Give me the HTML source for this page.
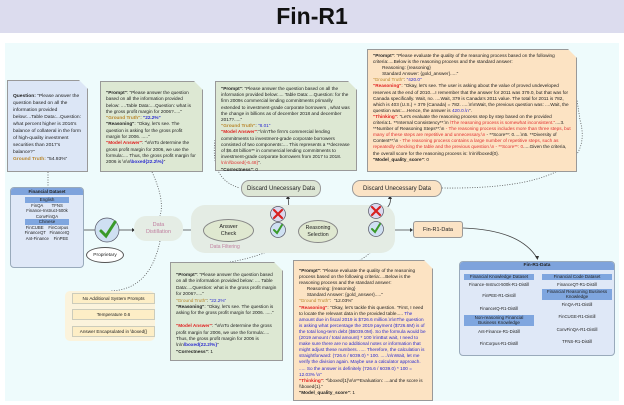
<!DOCTYPE html>
<html><head><meta charset="utf-8"><style>
*{margin:0;padding:0;box-sizing:border-box}
body{width:624px;height:405px;background:#fff;position:relative;overflow:hidden;font-family:"Liberation Sans",sans-serif;color:#222}
.a{position:absolute}
.t{font-size:4.6px;line-height:5.9px}
.note{position:absolute;padding:4px 5px;border:0.7px solid #999;clip-path:polygon(0 0,calc(100% - 9px) 0,100% 9px,100% 100%,0 100%)}
.b{font-weight:bold}
.o{color:#b8862b}.r{color:#e02020;font-weight:bold}.bl{color:#2a2ad0}.rr{color:#e03030}
.pill{position:absolute;display:flex;align-items:center;justify-content:center;text-align:center}
.chip{background:#7fa6df;text-align:center;font-size:4.5px;line-height:5.5px}
</style></head><body>
<div class="a" style="left:0;top:0;width:624px;height:33px;background:#dcdcee"></div>
<div class="a b" style="left:0;top:2px;width:624px;text-align:center;font-size:23px;line-height:28px;color:#111">Fin-R1</div>
<div class="a" style="left:5px;top:43px;width:614px;height:358px;background:#eefbfc"></div>

<svg class="a" style="left:0;top:0" width="624" height="405">
<g fill="none" stroke="#555" stroke-width="0.8" stroke-dasharray="1,1.5">
<path d="M48 172 L48 187"/><path d="M152 172 Q165 200 160 216"/><path d="M215 140 Q210 180 240 188"/>
<path d="M442 188 Q600 190 580 120 L577 100"/><path d="M160 241 Q150 290 110 291"/>
<path d="M286 240 Q270 255 230 262"/><path d="M380 241 Q370 255 360 260"/>
</g>
<g fill="none" stroke="#444" stroke-width="0.8">
<path d="M84 230 L95 230"/><path d="M119 230 L132 230"/><path d="M183 230 L202 230"/>
<path d="M254 230 L298 230"/><path d="M260 230 Q262 214 270 214"/><path d="M286 212 Q290 208 288 198"/>
<path d="M338 230 L412 230"/><path d="M360 230 Q362 213 368 212"/><path d="M384 210 Q392 205 390 197"/>
<path d="M463 228 Q520 230 537 258"/>
</g>
<g fill="#333"><path d="M132 228 L135 230 L132 232Z"/><path d="M202 228 L205 230 L202 232Z"/><path d="M296 228 L299 230 L296 232Z"/><path d="M410 228 L413 230 L410 232Z"/><path d="M535 256 L537.5 260 L539 256Z"/><path d="M286 199 L288 195 L290 199Z"/><path d="M388 199 L390 195 L392 199Z"/></g>
</svg>

<div class="note" style="left:7px;top:80px;width:81px;height:92px;background:#dce6f6;padding-top:12px;font-size:4.9px;line-height:7px"><span class="b">Question:</span> "Please answer the question based on all the information provided below:...Table Data:...Question: what percent higher is 2016's balance of collateral in the form of high-quality investment securities than 2017's balance?"<br><span class="o b">Ground Truth:</span> "54.93%"</div>

<div class="note" style="left:100px;top:81px;width:103px;height:91px;background:#dde8d3;padding-top:8px;font-size:4.7px;line-height:6.3px"><span class="b">"Prompt"</span>: "Please answer the question based on all the information provided below: ....Table Data:....Question: what is the gross profit margin for 2006?....."<br><span class="o b">"Ground Truth"</span>: <span class="bl b">"22.2%"</span><br><span class="b">"Reasoning"</span>: "Okay, let's see. The question is asking for the gross profit margin for 2006. ....."<br><span class="r">"Model Answer"</span>: "\n\nTo determine the gross profit margin for 2006, we use the formula:.... Thus, the gross profit margin for 2006 is \n\n<span class="bl b">\boxed{22.2\%}</span>"</div>

<div class="note" style="left:215px;top:81px;width:142px;height:90px;background:#dde8d3;padding-top:4px;font-size:4.7px;line-height:6.2px"><span class="b">"Prompt"</span>: "Please answer the question based on all the information provided below:.... Table Data:....Question: for the firm 2009s commercial lending commitments primarily extended to investment-grade corporate borrowers , what was the change in billions as of december 2018 and december 2017?....."<br><span class="o b">"Ground Truth"</span>: <span class="bl">"8.01"</span><br><span class="r">"Model Answer"</span>:"\n\nThe firm's commercial lending commitments to investment-grade corporate borrowers consisted of two components:.... This represents a **decrease of $6.48 billion** in commercial lending commitments to investment-grade corporate borrowers from 2017 to 2018. <span class="rr">\n\n\\boxed{-6.48}</span>".<br><span class="b">"Correctness"</span>: 0</div>

<div class="note" style="left:367px;top:49px;width:210px;height:123px;background:#fce3c3;padding-top:3px;font-size:4.7px;line-height:6.1px"><span class="b">"Prompt"</span>: "Please evaluate the quality of the reasoning process based on the following criteria:....Below is the reasoning process and the standard answer:<br>&nbsp;&nbsp;&nbsp;&nbsp;&nbsp;&nbsp;&nbsp;Reasoning: {reasoning}<br>&nbsp;&nbsp;&nbsp;&nbsp;&nbsp;&nbsp;&nbsp;Standard Answer: {gold_answer}....."<br><span class="o">"Ground Truth"</span>: <span class="bl">"420.0"</span><br><span class="r">"Reasoning"</span>: "Okay, let's see. The user is asking about the value of proved undeveloped reserves at the end of 2010....I remember that the answer for 2011 was 379.0, but that was for Canada specifically. Wait, no. ....Wait, 379 is Canada's 2011 value. The total for 2011 is 782, which is 403 (U.S.) + 379 (Canada) = 782. .....\n\nWait, the previous question was: ....Wait, the question was:....Hence, the answer is <span class="bl">420.0.\n</span>".<br><span class="r">"Thinking"</span>: "Let's evaluate the reasoning process step by step based on the provided criteria:1. **Internal Consistency**:\n <span class="rr">\The reasoning process is somewhat inconsistent."</span>....3. **Number of Reasoning Steps**:\n <span class="rr">- The reasoning process includes more than three steps, but many of these steps are repetitive and unnecessary.\n</span> - **Score**: 0.....\n5. **Diversity of Content**:\n <span class="rr">- The reasoning process contains a large number of repetitive steps, such as repeatedly checking the table and the previous question.\n - **Score**: 0</span>.....Given the criteria, the overall score for the reasoning process is: \n\n\\boxed{0}.<br><span class="b">"Model_quality_score"</span>: 0</div>

<div class="pill" style="left:241px;top:180px;width:80px;height:17px;background:#dde6d5;border:0.7px solid #999;border-radius:8px;font-size:6px">Discard Unecessary Data</div>
<div class="pill" style="left:352px;top:180px;width:90px;height:17px;background:#fbe3c5;border:0.7px solid #999;border-radius:8px;font-size:6px">Discard Unecessary Data</div>

<div class="a" style="left:10px;top:187px;width:74px;height:81px;background:#dfe8f7;border:0.7px solid #9ab;border-radius:4px;overflow:hidden">
<div class="b" style="background:#7ea3dc;font-size:4.5px;line-height:7px;text-align:center">Financial Dataset</div>
<div style="text-align:center;padding-top:2px;font-size:4.3px;line-height:5.6px">
<div class="chip" style="margin:0 14px">English</div>FinQA&nbsp;&nbsp;&nbsp;&nbsp;&nbsp;&nbsp;&nbsp;TFNS<br>Finance-Instruct-500k<br>ConvFinQA
<div class="chip" style="margin:0 14px">Chinese</div>FinCUBE&nbsp;&nbsp;&nbsp;&nbsp;FinCorpus<br>FinanceQT&nbsp;&nbsp;&nbsp;FinanceIQ<br>Ant-Finance&nbsp;&nbsp;&nbsp;&nbsp;FinPEE</div></div>
<div class="pill" style="left:86px;top:247px;width:38px;height:16px;background:#fff;border:0.7px solid #555;border-radius:50%;font-size:4.8px">Proprietary</div>

<div class="a" style="left:191px;top:205px;width:204px;height:48px;background:#e4ece4;border-radius:14px"></div>
<div class="pill" style="left:134px;top:216px;width:49px;height:25px;background:#e5ede5;border-radius:12px;font-size:5.5px;color:#c080a0;line-height:7px">Data<br>Distillation</div>
<div class="pill" style="left:203px;top:219px;width:51px;height:23px;background:#dfe8d0;border:0.7px solid #888;border-radius:50%;font-size:5.5px;line-height:7px">Answer<br>Check</div>
<div class="a" style="left:210px;top:244px;font-size:5px;color:#c080a0">Data Filtering</div>
<div class="pill" style="left:298px;top:220px;width:40px;height:23px;background:#dfe8d0;border:0.7px solid #888;border-radius:50%;font-size:5.2px;line-height:7px">Reasoning<br>Selection</div>
<div class="pill" style="left:413px;top:221px;width:50px;height:17px;background:#fbe3c5;border:0.7px solid #999;border-radius:3px;font-size:5.5px">Fin-R1-Data</div>

<svg class="a" style="left:0;top:0" width="624" height="405">
<g stroke="#556" stroke-width="0.7">
<circle cx="107" cy="230" r="12" fill="#cfe0f2"/><circle cx="278" cy="230" r="7.5" fill="#cfe0f2"/><circle cx="376" cy="229" r="7.5" fill="#cfe0f2"/>
<circle cx="278" cy="214" r="7.5" fill="#dcd8ee"/><circle cx="376" cy="211" r="7.5" fill="#dcd8ee"/>
</g>
<g fill="none" stroke="#3a9a2a" stroke-linecap="round">
<path d="M101 231 L106 236 L115 222" stroke-width="3"/><path d="M274 230 L277 233 L282 225" stroke-width="2"/><path d="M372 229 L375 232 L380 224" stroke-width="2"/>
</g>
<g stroke="#d82020" stroke-width="2.2" stroke-linecap="round"><path d="M274 210 L282 218 M282 210 L274 218"/><path d="M372 207 L380 215 M380 207 L372 215"/></g>
</svg>

<div class="a" style="left:65px;top:291px;width:90px;height:50px;background:#fbf3dc;border-radius:5px"></div>
<div class="pill" style="left:72px;top:293px;width:83px;height:11px;background:#fdeec6;border:0.6px solid #ccb;font-size:4.6px">No Additional System Prompts</div>
<div class="pill" style="left:72px;top:309px;width:83px;height:11px;background:#fdeec6;border:0.6px solid #ccb;font-size:4.6px">Temperature 0.6</div>
<div class="pill" style="left:72px;top:326px;width:83px;height:11px;background:#fdeec6;border:0.6px solid #ccb;font-size:4.6px">Answer Encapsulated in \boxed{}</div>

<div class="note" style="left:170px;top:262px;width:113px;height:99px;background:#dde8d3;padding-top:9px;font-size:4.7px;line-height:6.4px"><span class="b">"Prompt"</span>: "Please answer the question based on all the information provided below: .... Table Data:....Question: what is the gross profit margin for 2006?....."<br><span class="o">"Ground Truth"</span>: <span class="bl">"22.2%"</span><br><span class="b">"Reasoning"</span>: "Okay, let's see. The question is asking for the gross profit margin for 2006. ....."<br><br><span class="r">"Model Answer"</span>: "\n\nTo determine the gross profit margin for 2006, we use the formula:.... Thus, the gross profit margin for 2006 is \n\n<span class="bl b">\boxed{22.2\%}</span>"<br><span class="b">"Correctness"</span>: 1</div>

<div class="note" style="left:293px;top:260px;width:140px;height:141px;background:#fce3c3;padding-top:7px;font-size:4.7px;line-height:6.1px"><span class="b">"Prompt"</span>: "Please evaluate the quality of the reasoning process based on the following criteria:....Below is the reasoning process and the standard answer:<br>&nbsp;&nbsp;&nbsp;&nbsp;&nbsp;&nbsp;Reasoning: {reasoning}<br>&nbsp;&nbsp;&nbsp;&nbsp;&nbsp;&nbsp;Standard Answer: {gold_answer}....."<br><span class="o">"Ground Truth"</span>: &nbsp;"12.03%"<br><span class="r">"Reasoning"</span>: "Okay, let's tackle this question. "First, I need to locate the relevant data in the provided table..... <span class="bl">The amount due in fiscal 2019 is $726.6 million.\n\nThe question is asking what percentage the 2019 payment ($726.6M) is of the total long-term debt ($6039.0M). So the formula would be (2019 amount / total amount) * 100 \n\nBut wait, I need to make sure there are no additional notes or information that might adjust these numbers. ..... Therefore, the calculation is straightforward: (726.6 / 6039.0) * 100. .....\n\nWait, let me verify the division again. Maybe use a calculator approach. ..... So the answer is definitely (726.6 / 6039.0) * 100 = 12.03% \n"</span><br><span class="r">"Thinking"</span>: "\\boxed{1}\n\n**Evaluation: ....and the score is \\boxed{1}."<br><span class="b">"Model_quality_score"</span>: 1</div>

<div class="a" style="left:459px;top:261px;width:156px;height:95px;background:#dfe8f7;border:0.7px solid #9ab;border-radius:4px;overflow:hidden;font-size:4.3px;line-height:5.4px;text-align:center">
<div class="b" style="background:#7ea3dc;line-height:8px;font-size:4.8px">Fin-R1-Data</div>
<div class="a" style="left:4px;top:12px;width:70px">
<div class="chip">Financial Knowledge Dataset</div><div style="margin:2px 0 6px">Finance-Instruct-500k-R1-Distill</div>
<div style="margin-bottom:8px">FinPEE-R1-Distill</div><div style="margin-bottom:3px">FinanceIQ-R1-Distill</div>
<div class="chip">Non-reasoning Financial<br>Business Knowledge</div><div style="margin:3px 0 7px">Ant-Finance-R1-Distill</div><div>FinCorpus-R1-Distill</div></div>
<div class="a" style="left:82px;top:12px;width:70px">
<div class="chip">Financial Code Dataset</div><div style="margin:2px 0 2px">FinanceQT-R1-Distill</div>
<div class="chip">Financial Reasoning Business<br>Knowledge</div><div style="margin:2px 0 7px">FinQA-R1-Distill</div><div style="margin-bottom:7px">FinCUGE-R1-Distill</div><div style="margin-bottom:7px">ConvFinQA-R1-Distill</div><div>TFNS-R1-Distill</div></div>
</div>
</body></html>
